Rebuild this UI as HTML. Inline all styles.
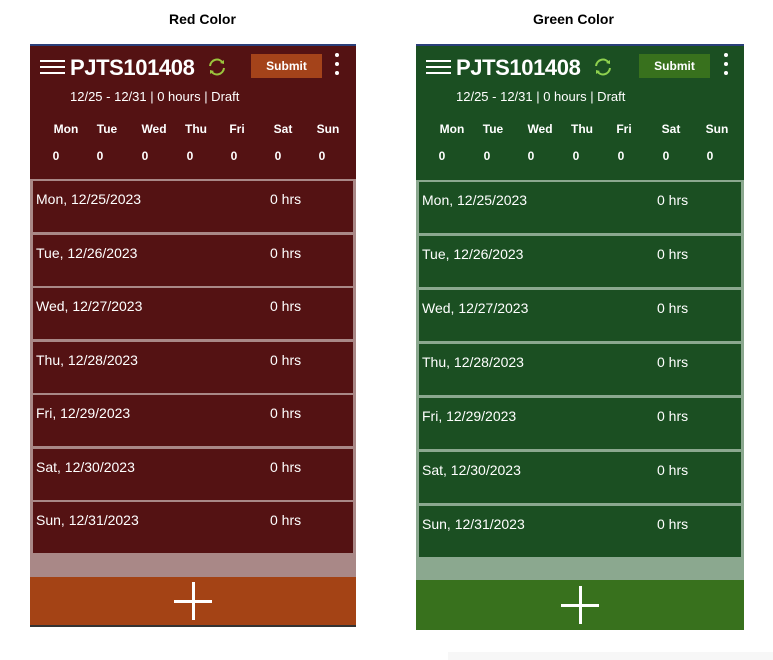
<!DOCTYPE html>
<html><head><meta charset="utf-8"><style>
body{margin:0;width:773px;height:660px;background:#fff;position:relative;overflow:hidden;font-family:"Liberation Sans",sans-serif}
.cap{position:absolute;top:11px;font-weight:bold;font-size:14px;color:#000}
.p{position:absolute;top:44px;color:#fff}
.p .bar{position:absolute;left:0;right:0;top:0;height:2px;background:#2a3f7a}
.t{position:absolute;white-space:nowrap}
.ham{position:absolute;left:10px;top:16px;width:25px;height:14px}
.ham i{display:block;height:2px;background:#fff;margin-bottom:4px}
.title{left:40px;top:11px;font-size:22px;font-weight:bold;letter-spacing:-0.4px}
.sub{font-size:13px;top:45px}
.btn{position:absolute;top:10px;height:24px;width:71px;font-size:12px;font-weight:bold;text-align:center;line-height:24px}
.kb{position:absolute;top:9px;width:4px}
.kb i{display:block;width:4px;height:4px;border-radius:2px;background:#fff;margin-bottom:5px}
.d{position:absolute;font-size:12px;font-weight:bold;transform:translateX(-50%)}
.row{position:absolute;left:3px;right:3px;height:51px}
.row span{position:absolute;top:10px;font-size:14px}
.foot{position:absolute;left:0;right:0}
.plus{position:absolute;left:50%;width:38px;height:38px;margin-left:-19px}
.plus:before{content:"";position:absolute;left:0;right:0;top:18px;height:3px;background:#fff}
.plus:after{content:"";position:absolute;top:0;bottom:0;left:18px;width:3px;background:#fff}
</style></head><body>
<div class="cap" style="left:169px">Red Color</div>
<div class="cap" style="left:533px">Green Color</div>

<!-- RED -->
<div class="p" style="left:30px;width:326px;height:583px;background:#541213">
<div class="bar"></div>
<div class="ham"><i></i><i></i><i></i></div>
<div class="t title">PJTS101408</div>
<svg style="position:absolute;left:177px;top:14px" width="20" height="18" viewBox="0 0 20 18"><path d="M3 8 A7 7 0 0 1 16 5" fill="none" stroke="#9bc53d" stroke-width="2"/><path d="M17 10 A7 7 0 0 1 4 13" fill="none" stroke="#9bc53d" stroke-width="2"/><path d="M13 5 L17 6 L17 2Z M7 13 L3 12 L3 16Z" fill="#9bc53d"/></svg>
<div class="btn" style="left:221px;background:#a4431a">Submit</div>
<div class="kb" style="left:305px"><i></i><i></i><i></i></div>
<div class="t sub" style="left:40px">12/25 - 12/31 | 0 hours | Draft</div>
<div class="d" style="left:36px;top:78px">Mon</div><div class="d" style="left:77px;top:78px">Tue</div><div class="d" style="left:124px;top:78px">Wed</div><div class="d" style="left:166px;top:78px">Thu</div><div class="d" style="left:207px;top:78px">Fri</div><div class="d" style="left:253px;top:78px">Sat</div><div class="d" style="left:298px;top:78px">Sun</div>
<div class="d" style="left:26px;top:105px">0</div><div class="d" style="left:70px;top:105px">0</div><div class="d" style="left:115px;top:105px">0</div><div class="d" style="left:160px;top:105px">0</div><div class="d" style="left:204px;top:105px">0</div><div class="d" style="left:248px;top:105px">0</div><div class="d" style="left:292px;top:105px">0</div>
<div style="position:absolute;left:0;right:0;top:135px;height:398px;background:#a98887"></div>
<div class="row" style="top:137px;background:#541213"><span style="left:3px">Mon, 12/25/2023</span><span style="left:237px">0 hrs</span></div>
<div class="row" style="top:190.5px;background:#541213"><span style="left:3px">Tue, 12/26/2023</span><span style="left:237px">0 hrs</span></div>
<div class="row" style="top:244px;background:#541213"><span style="left:3px">Wed, 12/27/2023</span><span style="left:237px">0 hrs</span></div>
<div class="row" style="top:297.5px;background:#541213"><span style="left:3px">Thu, 12/28/2023</span><span style="left:237px">0 hrs</span></div>
<div class="row" style="top:351px;background:#541213"><span style="left:3px">Fri, 12/29/2023</span><span style="left:237px">0 hrs</span></div>
<div class="row" style="top:404.5px;background:#541213"><span style="left:3px">Sat, 12/30/2023</span><span style="left:237px">0 hrs</span></div>
<div class="row" style="top:458px;background:#541213"><span style="left:3px">Sun, 12/31/2023</span><span style="left:237px">0 hrs</span></div>
<div class="foot" style="top:533px;height:48px;background:#a44315"><div class="plus" style="top:5px"></div></div>
<div class="foot" style="top:581px;height:2px;background:#333"></div>
</div>

<!-- GREEN -->
<div class="p" style="left:416px;width:328px;height:586px;background:#1b4f22">
<div class="bar"></div>
<div class="ham"><i></i><i></i><i></i></div>
<div class="t title">PJTS101408</div>
<svg style="position:absolute;left:177px;top:14px" width="20" height="18" viewBox="0 0 20 18"><path d="M3 8 A7 7 0 0 1 16 5" fill="none" stroke="#8fd14f" stroke-width="2"/><path d="M17 10 A7 7 0 0 1 4 13" fill="none" stroke="#8fd14f" stroke-width="2"/><path d="M13 5 L17 6 L17 2Z M7 13 L3 12 L3 16Z" fill="#8fd14f"/></svg>
<div class="btn" style="left:223px;background:#38711d">Submit</div>
<div class="kb" style="left:308px"><i></i><i></i><i></i></div>
<div class="t sub" style="left:40px">12/25 - 12/31 | 0 hours | Draft</div>
<div class="d" style="left:36px;top:78px">Mon</div><div class="d" style="left:77px;top:78px">Tue</div><div class="d" style="left:124px;top:78px">Wed</div><div class="d" style="left:166px;top:78px">Thu</div><div class="d" style="left:208px;top:78px">Fri</div><div class="d" style="left:255px;top:78px">Sat</div><div class="d" style="left:301px;top:78px">Sun</div>
<div class="d" style="left:26px;top:105px">0</div><div class="d" style="left:71px;top:105px">0</div><div class="d" style="left:115px;top:105px">0</div><div class="d" style="left:160px;top:105px">0</div><div class="d" style="left:205px;top:105px">0</div><div class="d" style="left:250px;top:105px">0</div><div class="d" style="left:294px;top:105px">0</div>
<div style="position:absolute;left:0;right:0;top:136px;height:400px;background:#8ba88f"></div>
<div class="row" style="top:138px;background:#1b4f22"><span style="left:3px">Mon, 12/25/2023</span><span style="left:238px">0 hrs</span></div>
<div class="row" style="top:192px;background:#1b4f22"><span style="left:3px">Tue, 12/26/2023</span><span style="left:238px">0 hrs</span></div>
<div class="row" style="top:246px;background:#1b4f22"><span style="left:3px">Wed, 12/27/2023</span><span style="left:238px">0 hrs</span></div>
<div class="row" style="top:300px;background:#1b4f22"><span style="left:3px">Thu, 12/28/2023</span><span style="left:238px">0 hrs</span></div>
<div class="row" style="top:354px;background:#1b4f22"><span style="left:3px">Fri, 12/29/2023</span><span style="left:238px">0 hrs</span></div>
<div class="row" style="top:408px;background:#1b4f22"><span style="left:3px">Sat, 12/30/2023</span><span style="left:238px">0 hrs</span></div>
<div class="row" style="top:462px;background:#1b4f22"><span style="left:3px">Sun, 12/31/2023</span><span style="left:238px">0 hrs</span></div>
<div class="foot" style="top:536px;height:50px;background:#38711d"><div class="plus" style="top:6px"></div></div>
</div>
<div style="position:absolute;left:448px;top:652px;width:325px;height:8px;background:#f7f7f7"></div>
</body></html>
